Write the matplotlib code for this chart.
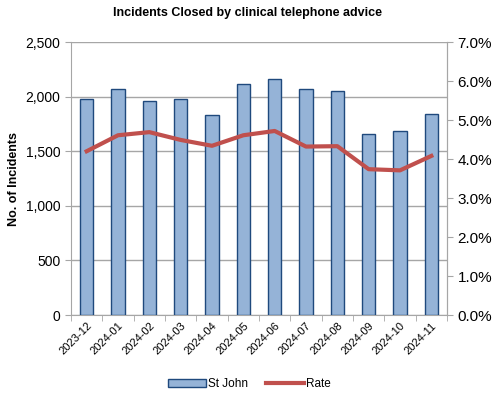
import numpy as np
import matplotlib
matplotlib.use("Agg")
import matplotlib.pyplot as plt
from matplotlib.ticker import FuncFormatter, MultipleLocator, FixedLocator

plt.rcParams['font.family'] = ['Liberation Sans', 'DejaVu Sans']

# data
months = ['2023-12', '2024-01', '2024-02', '2024-03', '2024-04', '2024-05',
          '2024-06', '2024-07', '2024-08', '2024-09', '2024-10', '2024-11']
st_john = [1980, 2070, 1960, 1975, 1830, 2115, 2165, 2070, 2050, 1655, 1690, 1840]
rate = [4.20, 4.61, 4.69, 4.49, 4.34, 4.61, 4.72, 4.32, 4.33, 3.74, 3.71, 4.08]

fig = plt.figure(figsize=(4.99, 3.95), dpi=100)
ax = fig.add_axes([0.1423, 0.2025, 0.7535, 0.691])
x = np.arange(len(months))

ax.bar(x, st_john, width=0.42, color='#95B3D7', edgecolor='#1F497D',
       linewidth=1.0, label='St John', zorder=3)
ax.set_ylim(0, 2500)
ax.set_xlim(-0.5, len(months) - 0.5)
ax.yaxis.set_major_locator(MultipleLocator(500))
ax.yaxis.set_major_formatter(FuncFormatter(lambda v, p: f'{int(v):,}'))
ax.grid(axis='y', color='#A6A6A6', linewidth=1.0, zorder=0)
ax.set_ylabel('No. of Incidents', fontsize=9, fontweight='bold', labelpad=4)
fig.text(0.495, 0.968, 'Incidents Closed by clinical telephone advice', fontsize=9,
         fontweight='bold', ha='center', va='center')

ax.set_xticks(x)
ax.set_xticklabels(months, rotation=45, ha='right', rotation_mode='anchor', fontsize=8)
ax.tick_params(axis='x', length=0, pad=4)
ax.xaxis.set_minor_locator(FixedLocator(np.arange(-0.5, len(months), 1)))
ax.tick_params(axis='x', which='minor', length=4, color='#A6A6A6')
ax.tick_params(axis='y', length=4, color='#A6A6A6', labelsize=10)

for s in ['top']:
    ax.spines[s].set_visible(False)
for s in ['left', 'bottom', 'right']:
    ax.spines[s].set_color('#A6A6A6')

ax2 = ax.twinx()
ax2.plot(x, rate, color='#C0504D', linewidth=3, label='Rate', zorder=4)
ax2.set_ylim(0, 7)
ax2.yaxis.set_major_locator(MultipleLocator(1))
ax2.yaxis.set_major_formatter(FuncFormatter(lambda v, p: f'{v:.1f}%'))
ax2.tick_params(axis='y', length=4, color='#A6A6A6', labelsize=11)
for s in ['top', 'left', 'bottom']:
    ax2.spines[s].set_visible(False)
ax2.spines['right'].set_color('#A6A6A6')

h1, l1 = ax.get_legend_handles_labels()
h2, l2 = ax2.get_legend_handles_labels()
fig.legend(h1 + h2, l1 + l2, loc='center', bbox_to_anchor=(0.5, 0.028),
           ncol=2, frameon=False, fontsize=8.5, handlelength=3.2,
           handletextpad=0.2, columnspacing=1.5)

fig.savefig('out.png', dpi=100)
